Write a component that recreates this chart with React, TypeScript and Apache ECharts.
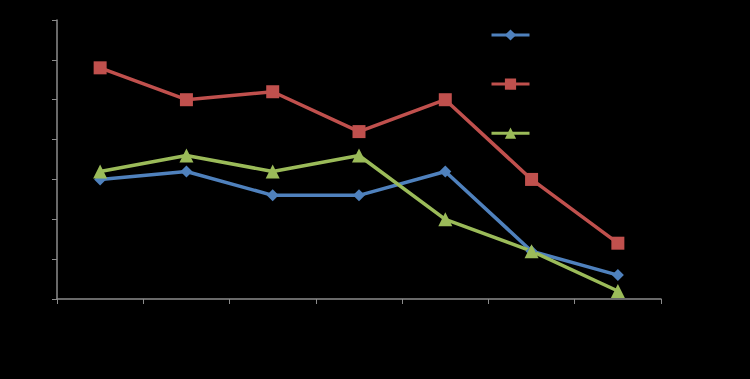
import React, { useEffect, useRef } from "react";
import * as echarts from "echarts";

const categories = ["1", "2", "3", "4", "5", "6", "7"];
const seriesNames = ["Series 1", "Series 2", "Series 3"];
const blueValues = [3.0, 3.2, 2.6, 2.6, 3.2, 1.2, 0.6];
const redValues = [5.8, 5.0, 5.2, 4.2, 5.0, 3.0, 1.4];
const greenValues = [3.2, 3.6, 3.2, 3.6, 2.0, 1.2, 0.2];

export default function App() {
  const ref = useRef<HTMLDivElement>(null);
  useEffect(() => {
    if (!ref.current) return;
    const chart = echarts.init(ref.current, undefined, { renderer: "svg" });
    const axisColor = "#8c8c8c";
    chart.setOption({
      animation: false,
      backgroundColor: "#000000",
      grid: { left: 57, right: 89, top: 20, bottom: 80 },
      legend: {
        orient: "vertical",
        left: 485,
        top: 23,
        itemWidth: 38,
        itemHeight: 14,
        itemGap: 36.5,
        lineStyle: { width: 3 },
        textStyle: { color: "#000000", fontSize: 1 },
        formatter: () => "",
        data: seriesNames,
      },
      xAxis: {
        type: "category",
        data: categories,
        boundaryGap: true,
        axisLine: { lineStyle: { color: axisColor, width: 1.5 } },
        axisTick: { show: true, length: 5, lineStyle: { color: axisColor } },
        axisLabel: { show: false },
        splitLine: { show: false },
      },
      yAxis: {
        type: "value",
        min: 0,
        max: 7,
        interval: 1,
        axisLine: { show: true, lineStyle: { color: axisColor, width: 1.5 } },
        axisTick: { show: true, length: 5, lineStyle: { color: axisColor } },
        axisLabel: { show: false },
        splitLine: { show: false },
      },
      series: [
        {
          name: seriesNames[0],
          type: "line",
          data: blueValues,
          symbol: "diamond",
          symbolSize: 12,
          lineStyle: { width: 3.5, color: "#4F81BD" },
          itemStyle: { color: "#4F81BD" },
        },
        {
          name: seriesNames[1],
          type: "line",
          data: redValues,
          symbol: "rect",
          symbolSize: 13,
          lineStyle: { width: 3.5, color: "#C0504D" },
          itemStyle: { color: "#C0504D" },
        },
        {
          name: seriesNames[2],
          type: "line",
          data: greenValues,
          symbol: "triangle",
          symbolSize: 14,
          lineStyle: { width: 3.5, color: "#9BBB59" },
          itemStyle: { color: "#9BBB59" },
        },
      ],
    });
    return () => chart.dispose();
  }, []);
  return <div ref={ref} style={{ width: 750, height: 379, position: "absolute", left: 0, top: 0 }} />;
}
